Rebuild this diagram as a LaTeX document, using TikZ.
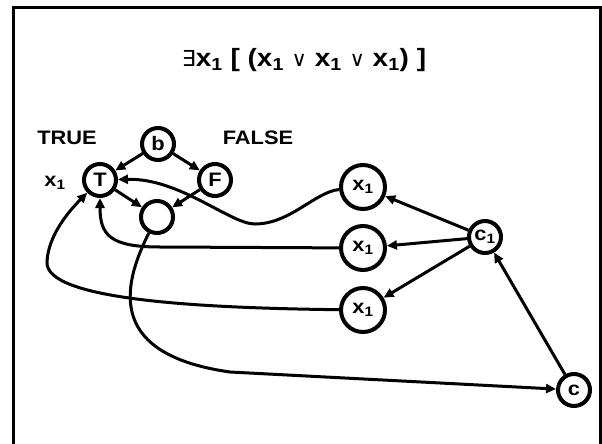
\documentclass[tikz,border=0pt]{standalone}
\usepackage{fontspec}
\setmainfont[FakeStretch=1.12]{Liberation Sans}
\newfontfamily\symfont{DejaVu Sans}
\usetikzlibrary{arrows.meta}

\begin{document}
\begin{tikzpicture}[x=1pt,y=-1pt,font=\bfseries\fontsize{19.5}{21}\selectfont,
  vtx/.style={circle,draw,line width=4pt,minimum size=32pt,inner sep=0pt},
  lit/.style={vtx,minimum size=44pt},
  arr/.style={line width=3pt,-{Triangle[length=10pt,width=9pt]}}]
  \useasboundingbox (0,0) rectangle (602,444);
  \draw[line width=3pt] (13.5,460) -- (13.5,7.5) -- (600,7.5) -- (600,460);
  \node (title) at (304,60) {\fontsize{25}{28}\selectfont{\symfont\mdseries\fontsize{22}{28}\selectfont ∃}x\textsubscript{1} [ (x\textsubscript{1} {\symfont\mdseries\fontsize{21}{28}\selectfont ∨} x\textsubscript{1} {\symfont\mdseries\fontsize{21}{28}\selectfont ∨} x\textsubscript{1}) ]};
  % truth-setting gadget
  \node (true) at (67,138) {TRUE};
  \node (false) at (258,138) {FALSE};
  \node (lab) at (55,183) {x\textsubscript{1}};
  \node[vtx] (b) at (158,144) {b};
  \node[vtx] (T) at (100,180) {T};
  \node[vtx] (F) at (215,180) {F};
  \node[vtx] (e) at (157,217) {};
  % clause gadget
  \node[lit] (xa) at (363,187) {x\textsubscript{1}};
  \node[lit] (xb) at (363,248) {x\textsubscript{1}};
  \node[lit] (xc) at (363,310) {x\textsubscript{1}};
  \node[vtx] (c1) at (485,237) {c\textsubscript{1}};
  \node[vtx] (c) at (574,390) {c};
  \draw[arr] (b) -- (T);
  \draw[arr] (b) -- (F);
  \draw[arr] (T) -- (e);
  \draw[arr] (F) -- (e);
  \foreach \v in {xa,xb,xc}{\draw[arr] (c1) -- (\v);}
  \draw[arr] (c) -- (c1);
  \draw[arr] (xa) .. controls (315,192) and (290,224) .. (255,224) .. controls (230,224) and (180,178) .. (T);
  \draw[arr] (xb) -- (160,247) .. controls (110,247) and (100,235) .. (T);
  \draw[arr] (xc) .. controls (200,308) and (45,300) .. (47,262) .. controls (48,235) and (70,210) .. (T);
  \draw[arr] (e) .. controls (120,290) and (110,355) .. (230,372) -- (c);
\end{tikzpicture}
\end{document}
